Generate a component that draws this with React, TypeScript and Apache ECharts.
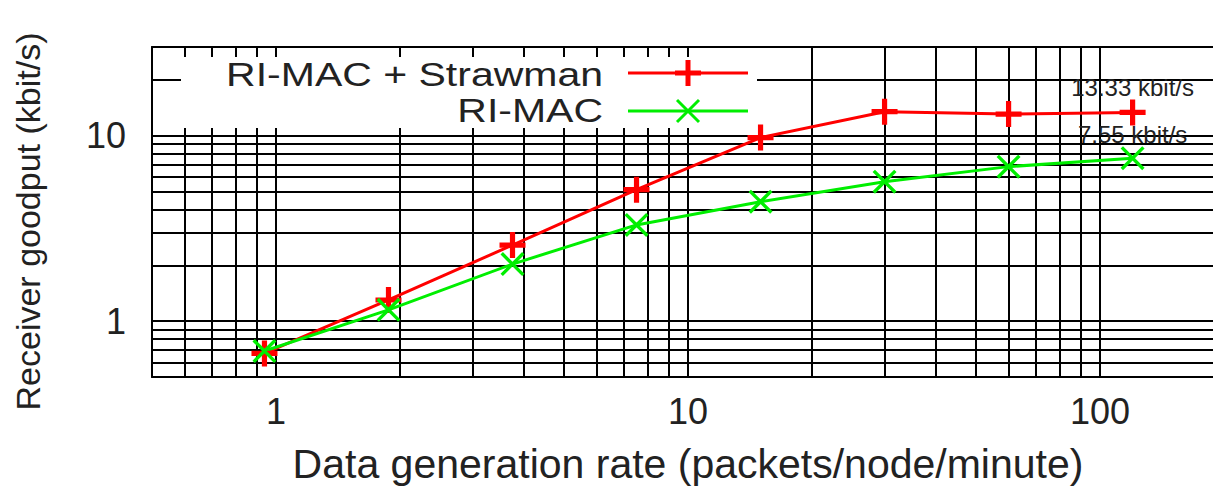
import React, { useEffect, useRef } from "react";
import * as echarts from "echarts";

// ---- data ----
const rates = [0.9375, 1.875, 3.75, 7.5, 15, 30, 60, 120];
const strawmanGoodput = [0.67, 1.3, 2.57, 5.11, 9.75, 13.45, 13.05, 13.33];
const rimacGoodput = [0.69, 1.15, 2.03, 3.3, 4.4, 5.64, 6.8, 7.55];
const seriesNames = ["RI-MAC + Strawman", "RI-MAC"];
const xGridValues = [0.6, 0.7, 0.8, 0.9, 1, 2, 3, 4, 5, 6, 7, 8, 9, 10, 20, 30, 40, 50, 60, 70, 80, 90, 100];
const yGridValues = [0.6, 0.7, 0.8, 0.9, 1, 2, 3, 4, 5, 6, 7, 8, 9, 10, 20];
const xRange = [0.5, 200];
const yRange = [0.5, 30];
const xTitle = "Data generation rate (packets/node/minute)";
const yTitle = "Receiver goodput (kbit/s)";

const FONT = "'Liberation Sans', Arial, sans-serif";
const PLUS = "path://M4,0H6V4H10V6H6V10H4V6H0V4H4Z";
const CROSS = "path://M0,10L10,0L100,90L90,100ZM90,0L100,10L10,100L0,90Z";

const isPow10 = (v: number) => Math.abs(Math.log10(v) - Math.round(Math.log10(v))) < 1e-6;

export default function App() {
  const ref = useRef<HTMLDivElement>(null);
  useEffect(() => {
    document.body.style.margin = "0";
    document.body.style.overflow = "hidden";
    const chart = echarts.init(ref.current!, null, { renderer: "svg" });
    const last = rates.length - 1;
    const mk = (ys: number[]) =>
      rates.map((x, i) =>
        i === last
          ? {
              value: [x, ys[i]],
              label: {
                show: true,
                position: "top",
                distance: 0,
                fontSize: 24,
                fontFamily: FONT,
                color: "#222",
                formatter: (p: any) => `${p.value[1].toFixed(2)} kbit/s`,
              },
            }
          : [x, ys[i]]
      );
    const gridLine = { color: "#000", width: 2, type: "solid" };
    const option: any = {
      animation: false,
      grid: { left: 152, top: 47, right: -11, bottom: 112, outerBoundsMode: "none", containLabel: false },
      xAxis: [
        {
          type: "log",
          logBase: 10,
          min: xRange[0],
          max: xRange[1],
          name: xTitle,
          nameLocation: "middle",
          nameGap: 66,
          nameTextStyle: { fontSize: 41, fontFamily: FONT, color: "#222" },
          axisLine: { show: true, onZero: false, lineStyle: { color: "#000", width: 2 } },
          axisTick: { show: false },
          splitLine: { show: false },
          axisLabel: {
            fontSize: 36,
            fontFamily: FONT,
            color: "#222",
            margin: 16,
            showMinLabel: true,
            showMaxLabel: true,
            formatter: (v: number) => (isPow10(v) ? String(Math.round(v)) : ""),
          },
        },
        {
          type: "log",
          logBase: 10,
          min: xRange[0],
          max: xRange[1],
          position: "top",
          axisLine: { show: true, onZero: false, lineStyle: { color: "#000", width: 2 } },
          axisTick: { show: false },
          axisLabel: { show: false },
          splitLine: { show: false },
        },
      ],
      yAxis: {
        type: "log",
        logBase: 10,
        min: yRange[0],
        max: yRange[1],
        name: yTitle,
        nameLocation: "middle",
        nameGap: 107,
        nameTextStyle: { fontSize: 34, fontFamily: FONT, color: "#222", padding: [0, 19, 0, 0] },
        axisLine: { show: true, onZero: false, lineStyle: { color: "#000", width: 2 } },
        axisTick: { show: false },
        splitLine: { show: false },
        axisLabel: {
          fontSize: 36,
          fontFamily: FONT,
          color: "#222",
          margin: 26,
          formatter: (v: number) => (isPow10(v) ? String(Math.round(v)) : ""),
        },
      },
      series: [
        {
          name: "grid",
          type: "line",
          data: [],
          silent: true,
          markLine: {
            silent: true,
            z: 1,
            symbol: ["none", "none"],
            label: { show: false },
            emphasis: { disabled: true },
            lineStyle: gridLine,
            data: [
              ...xGridValues.map((v) => ({ xAxis: v })),
              ...yGridValues.map((v) => ({ yAxis: v })),
            ],
          },
        },
        {
          name: "topticks",
          type: "line",
          data: [],
          silent: true,
          markLine: {
            silent: true,
            z: 3,
            symbol: ["none", "none"],
            label: { show: false },
            emphasis: { disabled: true },
            lineStyle: gridLine,
            data: xGridValues.map((v) => [{ coord: [v, yRange[1]] }, { coord: [v, 26.5] }]),
          },
        },
        {
          name: seriesNames[0],
          type: "line",
          z: 4,
          data: mk(strawmanGoodput),
          symbol: PLUS,
          symbolSize: 26,
          lineStyle: { color: "#ff0000", width: 3 },
          itemStyle: { color: "#ff0000" },
          emphasis: { disabled: true },
        },
        {
          name: seriesNames[1],
          type: "line",
          z: 4,
          data: mk(rimacGoodput),
          symbol: CROSS,
          symbolSize: 24,
          lineStyle: { color: "#00ee00", width: 3 },
          itemStyle: { color: "#00ee00" },
          emphasis: { disabled: true },
        },
      ],
      graphic: [
        { type: "rect", z: 2, silent: true, shape: { x: 181, y: 49, width: 576, height: 79 }, style: { fill: "#fff" } },
        {
          type: "text",
          z: 6,
          x: 603,
          y: 75,
          scaleY: 0.8,
          style: { text: seriesNames[0], fontSize: 41, fontFamily: FONT, fill: "#222", align: "right", verticalAlign: "middle" },
        },
        {
          type: "text",
          z: 6,
          x: 603,
          y: 111,
          scaleY: 0.8,
          style: { text: seriesNames[1], fontSize: 41, fontFamily: FONT, fill: "#222", align: "right", verticalAlign: "middle" },
        },
        { type: "line", z: 6, shape: { x1: 628, y1: 73, x2: 748, y2: 73 }, style: { stroke: "#ff0000", lineWidth: 3 } },
        { type: "line", z: 6, shape: { x1: 675, y1: 73, x2: 701, y2: 73 }, style: { stroke: "#ff0000", lineWidth: 5 } },
        { type: "line", z: 6, shape: { x1: 688, y1: 60, x2: 688, y2: 86 }, style: { stroke: "#ff0000", lineWidth: 5 } },
        { type: "line", z: 6, shape: { x1: 628, y1: 111, x2: 748, y2: 111 }, style: { stroke: "#00ee00", lineWidth: 3 } },
        { type: "line", z: 6, shape: { x1: 677, y1: 100, x2: 699, y2: 122 }, style: { stroke: "#00ee00", lineWidth: 3 } },
        { type: "line", z: 6, shape: { x1: 677, y1: 122, x2: 699, y2: 100 }, style: { stroke: "#00ee00", lineWidth: 3 } },
      ],
    };
    chart.setOption(option);
    return () => chart.dispose();
  }, []);
  return <div ref={ref} style={{ width: 1213, height: 489 }} />;
}
